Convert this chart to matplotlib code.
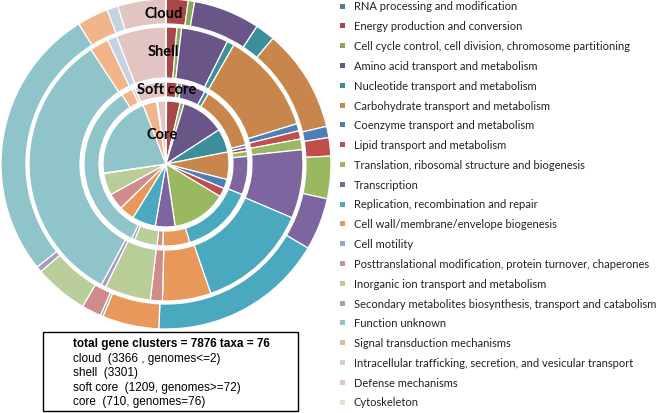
import matplotlib
matplotlib.use("Agg")
import matplotlib.pyplot as plt
from matplotlib.patches import Rectangle

categories = [
    "RNA processing and modification",
    "Energy production and conversion",
    "Cell cycle control, cell division, chromosome partitioning",
    "Amino acid transport and metabolism",
    "Nucleotide transport and metabolism",
    "Carbohydrate transport and metabolism",
    "Coenzyme transport and metabolism",
    "Lipid transport and metabolism",
    "Translation, ribosomal structure and biogenesis",
    "Transcription",
    "Replication, recombination and repair",
    "Cell wall/membrane/envelope biogenesis",
    "Cell motility",
    "Posttranslational modification, protein turnover, chaperones",
    "Inorganic ion transport and metabolism",
    "Secondary metabolites biosynthesis, transport and catabolism",
    "Function unknown",
    "Signal transduction mechanisms",
    "Intracellular trafficking, secretion, and vesicular transport",
    "Defense mechanisms",
    "Cytoskeleton",
]
colors = [
    "#4a7bab", "#a84846", "#8aa85a", "#6a5588", "#3d8e9b", "#c8864d",
    "#4e7eb6", "#bf4e4c", "#9ab85f", "#7e65a0", "#4aa9bf", "#e8985a",
    "#95a9cb", "#d08c8b", "#b9cd98", "#a79cbf", "#90c4cb", "#f2b48a",
    "#c6d1e3", "#e2c4c2", "#d9e5c8",
]

# gene clusters per COG category
core      = [1, 25, 7, 80, 43, 50, 17, 16, 100, 36, 43, 28, 0, 30, 40, 1, 152, 25, 2, 15, 0]
soft_core = [0, 27, 10, 57, 10, 151, 7, 8, 12, 91, 171, 64, 0, 13, 54, 7, 410, 27, 7, 74, 0]
shell     = [0, 42, 18, 183, 28, 394, 28, 32, 41, 266, 436, 188, 0, 46, 179, 18, 1082, 73, 37, 193, 0]
cloud     = [0, 73, 21, 220, 65, 341, 37, 61, 140, 173, 580, 187, 9, 65, 178, 19, 907, 103, 37, 159, 0]

ring_names = ["Cloud", "Shell", "Soft core", "Core"]
info_lines = [
    "cloud  (3366 , genomes<=2)",
    "shell  (3301)",
    "soft core  (1209, genomes>=72)",
    "core  (710, genomes=76)",
]

W, H = 660, 414
fig = plt.figure(figsize=(W / 100, H / 100), dpi=100)

R = 165.0
cx, cy = 166, 165
ax = fig.add_axes([(cx - R) / W, 1 - (cy + R) / H, 2 * R / W, 2 * R / H])

wp = dict(edgecolor="white", linewidth=0.9)
# (data, outer radius, inner radius) in px
rings = [
    (cloud, 165, 140),
    (shell, 137, 86),
    (soft_core, 82, 67),
    (core, 63, 0),
]
for data, ro, ri in rings:
    props = dict(wp)
    if ri > 0:
        props["width"] = (ro - ri) / R
    ax.pie(data, colors=colors, radius=ro / R, startangle=90,
           counterclock=False, wedgeprops=props)
ax.set_xlim(-1, 1)
ax.set_ylim(-1, 1)

label_pos = [(164, 14), (163, 52), (167, 90), (162, 135)]
for name, (x, y) in zip(ring_names, label_pos):
    fig.text(x / W, 1 - y / H, name, ha="center", va="center",
             fontsize=10.5, fontweight="bold", family="Lato")

# legend
for i, (name, col) in enumerate(zip(categories, colors)):
    y = 7 + i * 19.8
    fig.patches.append(Rectangle((340 / W, 1 - (y + 2.5) / H), 5 / W, 5 / H,
                                 transform=fig.transFigure, facecolor=col,
                                 edgecolor="none"))
    fig.text(354 / W, 1 - y / H, name, ha="left", va="center",
             fontsize=8.0, family="Lato", color="#222222")

# info box
fig.patches.append(Rectangle((43 / W, 1 - 412 / H), 255 / W, 79 / H,
                             transform=fig.transFigure, facecolor="white",
                             edgecolor="black", linewidth=1.0))
fig.text(73 / W, 1 - 344 / H, "total gene clusters = 7876 taxa = 76",
         ha="left", va="center", fontsize=8.5, fontweight="bold",
         family="Liberation Sans")
for j, line in enumerate(info_lines):
    fig.text(73 / W, 1 - (359 + j * 14.5) / H, line, ha="left", va="center",
             fontsize=8.5, family="Liberation Sans")

fig.savefig("out.png", dpi=100)
